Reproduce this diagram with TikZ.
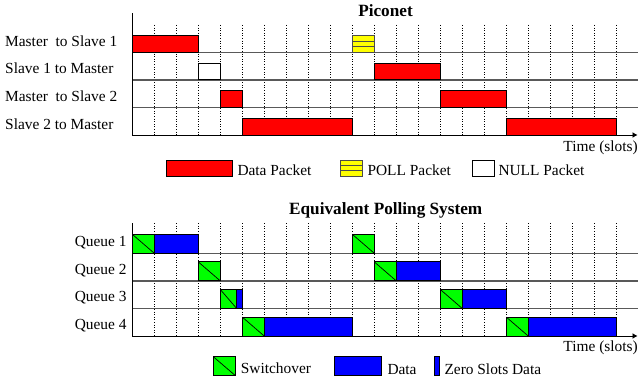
\documentclass[tikz,border=0pt]{standalone}
\usepackage{fontspec}
\setmainfont{Liberation Serif}
\usetikzlibrary{arrows.meta}
\definecolor{pred}{RGB}{255,0,0}
\definecolor{pyel}{RGB}{255,255,0}
\definecolor{pgreen}{RGB}{0,255,0}
\definecolor{pblue}{RGB}{0,0,255}
\tikzset{
  lbl/.style={inner sep=0pt, font=\fontsize{15.4}{18}\selectfont},
  ttl/.style={inner sep=0pt, font=\fontsize{17.2}{20}\selectfont\bfseries},
  axisline/.style={black, line width=0.9pt},
  rowline/.style={black!65, line width=1.3pt},
  slotline/.style={black, line width=0.6pt, dotted},
  redpkt/.style={draw=black, fill=pred, line width=0.8pt},
  yelpkt/.style={draw=black!70, fill=pyel, line width=0.8pt},
  nullpkt/.style={draw=black, fill=white, line width=0.8pt},
  swbox/.style={draw=black, fill=pgreen, line width=0.8pt},
  databox/.style={draw=black, fill=pblue, line width=0.8pt},
  timearrow/.style={axisline, -{Latex[length=5pt,width=6pt]}},
}
% top chart: row, start slot, end slot
\newcommand{\tpkt}[4]{\draw[#1] ({132.3+22*#3},{52.3+27.6*#2-16.7}) rectangle ({132.3+22*#4},{52.3+27.6*#2});}
\newcommand{\tpoll}[3]{%
  \draw[yelpkt] ({132.3+22*#2},{52.3+27.6*#1-16.7}) rectangle ({132.3+22*#3},{52.3+27.6*#1});
  \draw[black!70, line width=0.8pt] ({132.3+22*#2},{52.3+27.6*#1-11.1}) -- ({132.3+22*#3},{52.3+27.6*#1-11.1});
  \draw[black!70, line width=0.8pt] ({132.3+22*#2},{52.3+27.6*#1-5.6}) -- ({132.3+22*#3},{52.3+27.6*#1-5.6});}
% bottom chart: row, start x, end x
\newcommand{\bsw}[3]{%
  \draw[swbox] (#2,{253.3+27.6*#1-19}) rectangle (#3,{253.3+27.6*#1});
  \draw[black, line width=0.7pt] (#2,{253.3+27.6*#1-19}) -- (#3,{253.3+27.6*#1});}
\newcommand{\bdat}[3]{\draw[databox] (#2,{253.3+27.6*#1-19}) rectangle (#3,{253.3+27.6*#1});}
\begin{document}
\begin{tikzpicture}[x=1pt, y=-1pt]
\useasboundingbox (0,0) rectangle (638,382);

% ================= Piconet =================
\node[ttl, anchor=base] (t1) at (385.5,17) {Piconet};
\coordinate (a1top) at (132.3,13.3);
\coordinate (a1org) at (132.3,135);
\coordinate (a1end) at (637.5,135);
\foreach \k in {1,...,22} {
  \draw[slotline] ({132.3+22*\k},25) -- ({132.3+22*\k},135);
}
\foreach \i in {0,1,2} {
  \draw[rowline] (132.3,{52.3+27.6*\i}) -- (638,{52.3+27.6*\i});
}
\node[lbl, anchor=base west] (l1) at (5,46.3) {Master\ \ to Slave 1};
\node[lbl, anchor=base west] (l2) at (5,73.9) {Slave 1 to Master};
\node[lbl, anchor=base west] (l3) at (5,101.5) {Master\ \ to Slave 2};
\node[lbl, anchor=base west] (l4) at (5,129.1) {Slave 2 to Master};

\tpkt{redpkt}{0}{0}{3}
\tpoll{0}{10}{11}
\tpkt{nullpkt}{1}{3}{4}
\tpkt{redpkt}{1}{11}{14}
\tpkt{redpkt}{2}{4}{5}
\tpkt{redpkt}{2}{14}{17}
\tpkt{redpkt}{3}{5}{10}
\tpkt{redpkt}{3}{17}{22}

\draw[axisline] (a1top) -- (a1org);
\draw[timearrow] (a1org) -- (a1end);
\node[lbl, anchor=base east] (time1) at (638,151.7) {Time (slots)};

% legend top
\draw[redpkt] (166.7,160) rectangle (232.7,176);
\node[lbl, anchor=base west] (lg1) at (237.3,175.7) {Data Packet};
\draw[yelpkt] (340.7,160) rectangle (362,176);
\draw[black!70, line width=0.8pt] (340.7,165.3) -- (362,165.3);
\draw[black!70, line width=0.8pt] (340.7,170.7) -- (362,170.7);
\node[lbl, anchor=base west] (lg2) at (367.3,175.7) {POLL Packet};
\draw[nullpkt] (472.7,160) rectangle (494,176);
\node[lbl, anchor=base west] (lg3) at (498.3,175.7) {NULL Packet};

% ================= Polling system =================
\node[ttl, anchor=base] (t2) at (385.7,214.3) {Equivalent Polling System};
\coordinate (a2top) at (132.3,223.3);
\coordinate (a2org) at (132.3,336);
\coordinate (a2end) at (637.5,336);
\foreach \k in {1,...,22} {
  \draw[slotline] ({132.3+22*\k},223.3) -- ({132.3+22*\k},336);
}
\foreach \i in {0,1,2} {
  \draw[rowline] (132.3,{253.3+27.6*\i}) -- (638,{253.3+27.6*\i});
}
\node[lbl, anchor=base east] (q1) at (126.7,246.7) {Queue 1};
\node[lbl, anchor=base east] (q2) at (126.7,274.3) {Queue 2};
\node[lbl, anchor=base east] (q3) at (126.7,301.9) {Queue 3};
\node[lbl, anchor=base east] (q4) at (126.7,329.5) {Queue 4};

\bsw{0}{132.3}{154.3}\bdat{0}{154.3}{198.3}
\bsw{0}{352.3}{374.3}
\bsw{1}{198.3}{220.3}
\bsw{1}{374.3}{396.3}\bdat{1}{396.3}{440.3}
\bsw{2}{220.3}{236.7}\bdat{2}{236.7}{242.3}
\bsw{2}{440.3}{462.3}\bdat{2}{462.3}{506.3}
\bsw{3}{242.3}{264.3}\bdat{3}{264.3}{352.3}
\bsw{3}{506.3}{528.3}\bdat{3}{528.3}{616.3}

\draw[axisline] (a2top) -- (a2org);
\draw[timearrow] (a2org) -- (a2end);
\node[lbl, anchor=base east] (time2) at (638,351.7) {Time (slots)};

% legend bottom
\draw[swbox] (213.3,356.7) rectangle (235,375.3);
\draw[black, line width=0.7pt] (213.3,356.7) -- (235,375.3);
\node[lbl, anchor=base west] (lg4) at (240.7,373.3) {Switchover};
\draw[databox] (334.3,356.7) rectangle (381.7,375.3);
\node[lbl, anchor=base west] (lg5) at (387.3,375) {Data};
\draw[databox] (434,356.7) rectangle (439.3,375.3);
\node[lbl, anchor=base west] (lg6) at (444.3,375) {Zero Slots Data};
\end{tikzpicture}
\end{document}
